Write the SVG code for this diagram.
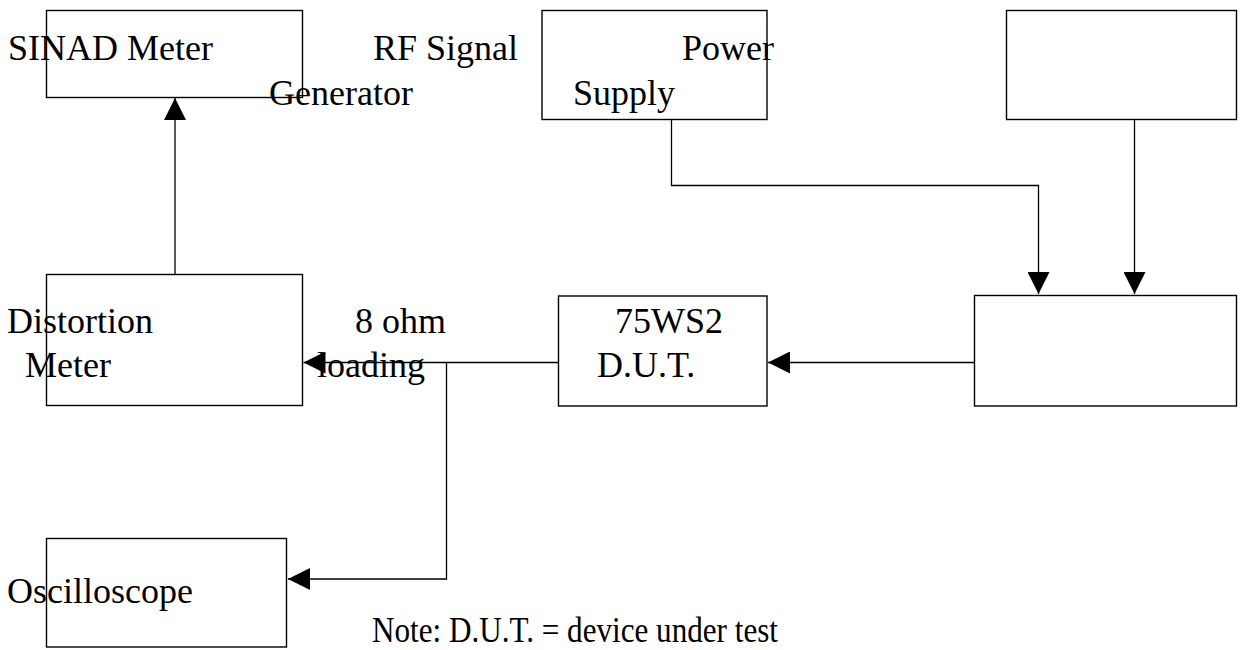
<svg xmlns="http://www.w3.org/2000/svg" width="1249" height="650" viewBox="0 0 1249 650">
<style>
.box{fill:#fff;stroke:#000;stroke-width:1.4}
.t{font-family:"Liberation Serif","Times New Roman",serif;font-size:36px;fill:#000}
.c{fill:none;stroke:#000;stroke-width:1.3}
</style>
<defs>
<marker id="ah" markerUnits="userSpaceOnUse" markerWidth="22" markerHeight="22" viewBox="0 0 20 20" refX="20" refY="10" orient="auto">
<path d="M0,0 L20,10 L0,20 Z" fill="#000"/>
</marker>
</defs>
<rect width="1249" height="650" fill="#fff"/>
<g id="sinad"><rect class="box" x="46.5" y="10.5" width="256" height="87"/></g>
<g id="power"><rect class="box" x="542" y="10.5" width="225" height="109"/></g>
<g id="topright"><rect class="box" x="1006.5" y="10.5" width="230" height="109"/></g>
<g id="distortion"><rect class="box" x="46.5" y="274.5" width="256" height="131"/></g>
<g id="dut"><rect class="box" x="558.5" y="296" width="208.5" height="110"/></g>
<g id="rightmid"><rect class="box" x="974.5" y="295.5" width="262" height="110.5"/></g>
<g id="osc"><rect class="box" x="46.5" y="538.5" width="240" height="108.5"/></g>
<g id="connectors">
<path class="c" d="M175,274 V98" marker-end="url(#ah)"/>
<path class="c" d="M671.5,120 V185.5 H1038.5 V294" marker-end="url(#ah)"/>
<path class="c" d="M1134.5,120 V294" marker-end="url(#ah)"/>
<path class="c" d="M974,362.5 H768" marker-end="url(#ah)"/>
<path class="c" d="M558,362.5 H303.5" marker-end="url(#ah)"/>
<path class="c" d="M446.5,362.5 V579 H288" marker-end="url(#ah)"/>
</g>
<g id="labels">
<text class="t" x="8" y="60">SINAD Meter</text>
<text class="t" x="373" y="60">RF Signal</text>
<text class="t" x="269" y="105">Generator</text>
<text class="t" x="682" y="60">Power</text>
<text class="t" x="573" y="105">Supply</text>
<text class="t" x="7" y="333">Distortion</text>
<text class="t" x="25" y="377">Meter</text>
<text class="t" x="355" y="333">8 ohm</text>
<text class="t" x="317" y="377">loading</text>
<text class="t" x="615" y="333">75WS2</text>
<text class="t" x="597" y="377">D.U.T.</text>
<text class="t" x="7" y="603">Oscilloscope</text>
<text class="t" x="372" y="642" textLength="406" lengthAdjust="spacingAndGlyphs">Note: D.U.T. = device under test</text>
</g>
</svg>
